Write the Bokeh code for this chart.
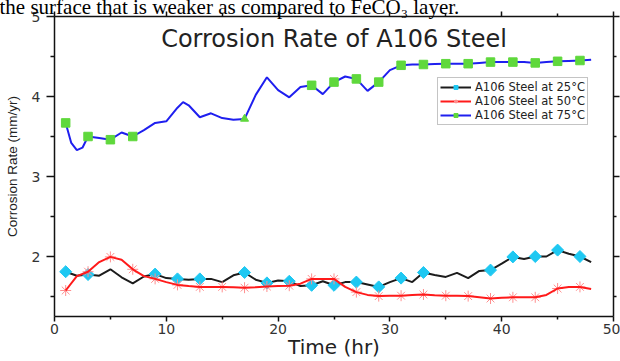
import math
from bokeh.plotting import figure
from bokeh.models import (Range1d, FixedTicker, LinearAxis, Label, Legend,
                          LegendItem, ColumnDataSource, Title)
from bokeh.embed import file_html
from bokeh.resources import INLINE

# ---------------- data ----------------
time_25 = list(range(1, 49))
rate_25 = [1.81, 1.76, 1.775, 1.76, 1.84, 1.74, 1.665, 1.75, 1.78, 1.73,
           1.72, 1.71, 1.72, 1.72, 1.68, 1.765, 1.80, 1.71, 1.67, 1.70,
           1.69, 1.63, 1.64, 1.69, 1.64, 1.68, 1.68, 1.65, 1.62, 1.68,
           1.73, 1.68, 1.80, 1.77, 1.745, 1.795, 1.73, 1.82, 1.83, 1.91,
           1.995, 1.97, 2.00, 2.00, 2.08, 2.035, 2.00, 1.93]

time_50 = list(range(1, 49))
rate_50 = [1.575, 1.755, 1.81, 1.93, 1.995, 1.96, 1.84, 1.755, 1.72, 1.68,
           1.645, 1.63, 1.62, 1.62, 1.62, 1.615, 1.61, 1.615, 1.625, 1.63,
           1.635, 1.66, 1.72, 1.72, 1.72, 1.62, 1.555, 1.52, 1.505, 1.51,
           1.51, 1.52, 1.525, 1.515, 1.51, 1.51, 1.505, 1.49, 1.475, 1.485,
           1.49, 1.49, 1.49, 1.52, 1.60, 1.62, 1.62, 1.595]

time_75 = [1, 1.5, 2, 2.5, 3, 4, 5, 6, 7, 8, 9, 10, 11, 11.5, 12, 13, 14,
           15, 16, 17, 18, 19, 20, 21, 22, 23, 24, 25, 26, 27, 28, 29, 30,
           31, 32, 33, 34, 35, 36, 37, 38, 39, 40, 41, 42, 43, 44, 45, 46,
           47, 48]
rate_75 = [3.67, 3.42, 3.33, 3.36, 3.50, 3.48, 3.46, 3.55, 3.50, 3.58, 3.67,
           3.69, 3.86, 3.93, 3.89, 3.74, 3.79, 3.73, 3.71, 3.72, 4.02, 4.24,
           4.08, 3.99, 4.12, 4.14, 4.03, 4.18, 4.25, 4.22, 4.07, 4.18, 4.33,
           4.39, 4.40, 4.40, 4.405, 4.41, 4.41, 4.41, 4.42, 4.43, 4.43, 4.43,
           4.43, 4.42, 4.43, 4.44, 4.445, 4.45, 4.46]

marker_hours_25 = [1, 3, 9, 11, 13, 17, 19, 21, 23, 25, 27, 29, 31, 33,
                   39, 41, 43, 45, 47]
marker_hours_50 = list(range(1, 48, 2))
marker_hours_75 = [1, 3, 5, 7, 23, 25, 27, 29, 31, 33, 35, 37, 39, 41,
                   43, 45, 47]
triangle_hours_75 = [17]

labels = ["A106 Steel at 25°C", "A106 Steel at 50°C", "A106 Steel at 75°C"]
x_ticks = [0, 10, 20, 30, 40, 50]
x_minor = [5, 15, 25, 35, 45]
y_ticks = [2, 3, 4, 5]
y_minor = [1.5, 2.5, 3.5, 4.5]


def pick(times, values, hours):
    lookup = dict(zip(times, values))
    return [lookup[h] for h in hours]


# ---------------- figure ----------------
FONT = "DejaVu Sans"
p = figure(width=620, height=361, output_backend="svg", toolbar_location=None,
           x_range=Range1d(0, 50), y_range=Range1d(1.25, 5),
           min_border_left=54, min_border_right=7, min_border_top=16,
           min_border_bottom=44, x_axis_type=None, y_axis_type=None)
p.xgrid.visible = False
p.ygrid.visible = False
p.outline_line_color = None
p.background_fill_color = "white"
p.border_fill_color = "white"

xt = FixedTicker(ticks=x_ticks, minor_ticks=x_minor)
yt = FixedTicker(ticks=y_ticks, minor_ticks=y_minor)


def style(ax, tick_out, minor_out, show_labels):
    ax.axis_line_color = "#111111"
    ax.axis_line_width = 1.5
    ax.major_tick_line_color = "#111111"
    ax.minor_tick_line_color = "#111111"
    ax.major_tick_line_width = 1.5
    ax.minor_tick_line_width = 1.5
    ax.major_tick_in = 0
    ax.minor_tick_in = 0
    ax.major_tick_out = tick_out
    ax.minor_tick_out = minor_out
    if show_labels:
        ax.major_label_text_font = FONT
        ax.major_label_text_font_size = "14px"
        ax.major_label_text_color = "#333333"
    else:
        ax.major_label_text_font_size = "0px"
        ax.major_label_text_color = None
        ax.major_label_standoff = 0


bottom = LinearAxis(ticker=xt)
style(bottom, 5, 3, True)
bottom.major_label_standoff = 2
bottom.axis_label = "Time (hr)"
bottom.axis_label_text_font = FONT
bottom.axis_label_text_font_size = "20px"
bottom.axis_label_text_font_style = "normal"
bottom.axis_label_text_color = "#222222"
bottom.axis_label_standoff = -2

left = LinearAxis(ticker=yt)
style(left, 8, 4, True)
left.major_label_standoff = 6
left.axis_label = "Corrosion Rate (mm/yr)"
left.axis_label_text_font = "Liberation Sans"
left.axis_label_text_font_size = "13.5px"
left.axis_label_text_font_style = "normal"
left.axis_label_text_color = "#222222"
left.axis_label_standoff = 9

top = LinearAxis(ticker=xt)
style(top, 5, 3, False)
right = LinearAxis(ticker=yt)
style(right, 6, 3, False)
p.add_layout(bottom, "below")
p.add_layout(left, "left")
p.add_layout(top, "above")
p.add_layout(right, "right")

# text of the page above the chart, cut by the picture's top edge
page_text = Title(text="the surface that is weaker as compared to FeCO\u2083 layer.",
                  text_font="Liberation Serif", text_font_size="21px",
                  text_font_style="normal", text_color="#000000",
                  align="left", offset=-55, standoff=-15)
p.add_layout(page_text, "above")

# ---------------- series ----------------
s25 = ColumnDataSource(dict(t=time_25, v=rate_25))
s50 = ColumnDataSource(dict(t=time_50, v=rate_50))
s75 = ColumnDataSource(dict(t=time_75, v=rate_75))
m25 = ColumnDataSource(dict(t=marker_hours_25,
                            v=pick(time_25, rate_25, marker_hours_25)))
m50 = ColumnDataSource(dict(t=marker_hours_50,
                            v=pick(time_50, rate_50, marker_hours_50)))
m75 = ColumnDataSource(dict(t=marker_hours_75,
                            v=pick(time_75, rate_75, marker_hours_75)))
tri75 = ColumnDataSource(dict(t=triangle_hours_75,
                              v=pick(time_75, rate_75, triangle_hours_75)))

l25 = p.line("t", "v", source=s25, line_color="#1c1c1c", line_width=2)
k25 = p.scatter("t", "v", source=m25, marker="square", angle=math.pi / 4,
                size=8.5, fill_color="#1ec8f2", line_color="#1ec8f2")
k50 = p.scatter("t", "v", source=m50, marker="asterisk", size=11,
                line_color="#ff8f8f", line_width=1)
l50 = p.line("t", "v", source=s50, line_color="#ff1a1a", line_width=2)
l75 = p.line("t", "v", source=s75, line_color="#1f1fef", line_width=2)
k75 = p.scatter("t", "v", source=m75, marker="square", size=8.5,
                fill_color="#5fd83c", line_color="#5fd83c")
p.scatter("t", "v", source=tri75, marker="triangle", size=8,
          fill_color="#5fd83c", line_color="#5fd83c")

legend = Legend(items=[LegendItem(label=labels[0], renderers=[l25, k25]),
                       LegendItem(label=labels[1], renderers=[l50, k50]),
                       LegendItem(label=labels[2], renderers=[l75, k75])],
                location=(383, 191))
legend.label_text_font = FONT
legend.label_text_font_size = "11.5px"
legend.label_text_color = "#222222"
legend.label_height = 10
legend.glyph_height = 10
legend.glyph_width = 31
legend.label_standoff = 4
legend.spacing = 0
legend.padding = 2
legend.margin = 0
legend.border_line_color = "#8a8a8a"
legend.border_line_width = 1
legend.background_fill_color = "white"
legend.background_fill_alpha = 1
p.add_layout(legend)

# ---------------- chart title inside the frame ----------------
p.add_layout(Label(x=279.5, y=278, x_units="screen", y_units="screen",
                   text="Corrosion Rate of A106 Steel", text_font=FONT,
                   text_font_size="24px", text_color="#222222",
                   text_align="center", text_baseline="alphabetic"))

open("out.html", "w").write(file_html(p, INLINE))
